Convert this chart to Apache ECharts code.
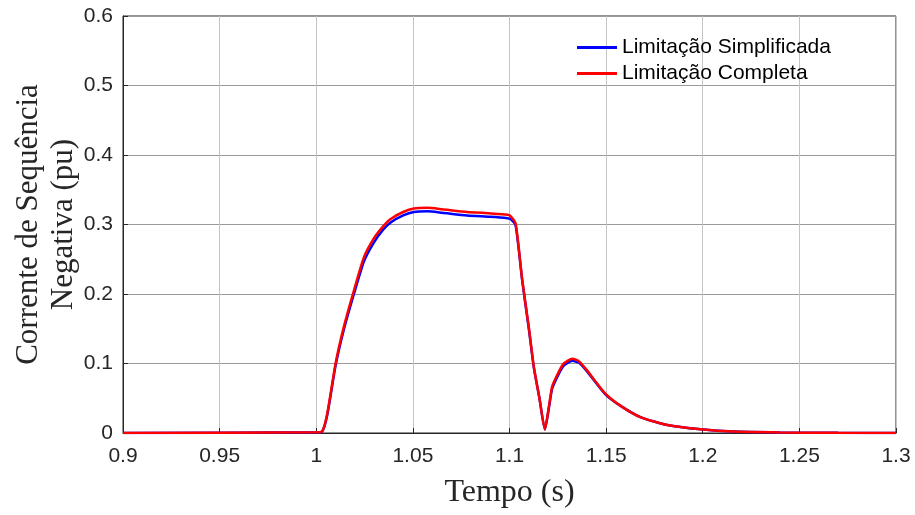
<!DOCTYPE html>
<html>
<head>
<meta charset="utf-8">
<script src="https://cdn.jsdelivr.net/npm/echarts@6/dist/echarts.min.js"></script>
<style>html,body{margin:0;padding:0;background:#fff}#c{width:915px;height:515px}</style>
</head>
<body>
<div id="c"></div>
<script>
const xTicks = [0.9, 0.95, 1, 1.05, 1.1, 1.15, 1.2, 1.25, 1.3];
const yTicks = [0, 0.1, 0.2, 0.3, 0.4, 0.5, 0.6];
const time = [0.9, 1.0, 1.003, 1.0057, 1.010, 1.0143, 1.0195, 1.0247, 1.0298, 1.0345, 1.0385, 1.045, 1.0505, 1.0575, 1.065, 1.078, 1.09, 1.0989, 1.1005, 1.1032, 1.1066, 1.110, 1.1126, 1.1155, 1.1183, 1.1205, 1.1221, 1.1255, 1.1281, 1.1325, 1.136, 1.140, 1.1495, 1.1575, 1.168, 1.1817, 1.199, 1.216, 1.24, 1.27, 1.3];
const limSimplificada = [0, 0.001, 0.002, 0.026, 0.097, 0.149, 0.200, 0.247, 0.274, 0.292, 0.303, 0.313, 0.318, 0.319, 0.317, 0.313, 0.311, 0.309, 0.308, 0.298, 0.219, 0.150, 0.094, 0.05, 0.005, 0.038, 0.064, 0.085, 0.097, 0.104, 0.101, 0.089, 0.056, 0.039, 0.0225, 0.0115, 0.0053, 0.002, 0.0008, 0.0002, 0];
const limCompleta = [0, 0.001, 0.002, 0.028, 0.100, 0.153, 0.205, 0.253, 0.280, 0.297, 0.308, 0.318, 0.323, 0.324, 0.322, 0.318, 0.316, 0.314, 0.312, 0.301, 0.220, 0.152, 0.095, 0.05, 0.005, 0.04, 0.067, 0.088, 0.100, 0.107, 0.103, 0.0905, 0.057, 0.039, 0.0225, 0.0115, 0.0053, 0.002, 0.0008, 0.0002, 0];
const seriesNames = ['Limitação Simplificada', 'Limitação Completa'];

const chart = echarts.init(document.getElementById('c'));
const tickFont = {fontFamily: 'Liberation Sans', fontSize: 21, color: '#262626'};
chart.setOption({
  animation: false,
  grid: {left: 123, right: 19, top: 16, bottom: 82, containLabel: false, outerBoundsMode: 'none', show: true, borderColor: '#262626', borderWidth: 1, backgroundColor: 'transparent'},
  legend: {
    orient: 'vertical', left: 572, top: 32, itemWidth: 40, itemHeight: 3, itemGap: 5,
    icon: 'rect',
    textStyle: {fontFamily: 'Liberation Sans', fontSize: 21, color: '#000'},
    data: seriesNames
  },
  xAxis: {
    type: 'value', min: xTicks[0], max: xTicks[xTicks.length - 1], interval: 0.05,
    axisLine: {show: true, lineStyle: {color: '#262626'}},
    axisTick: {inside: true, length: 5, lineStyle: {color: '#262626'}},
    axisLabel: Object.assign({margin: 13, formatter: v => String(parseFloat(v.toFixed(2)))}, tickFont),
    splitLine: {show: true, lineStyle: {color: '#c4c4c4', width: 1}},
    name: 'Tempo (s)', nameLocation: 'middle', nameGap: 44, nameMoveOverlap: false,
    nameTextStyle: {fontFamily: 'Liberation Serif', fontSize: 32, color: '#262626'}
  },
  yAxis: {
    type: 'value', min: yTicks[0], max: yTicks[yTicks.length - 1], interval: 0.1,
    axisLine: {show: true, lineStyle: {color: '#262626'}},
    axisTick: {show: true, inside: true, length: 5, lineStyle: {color: '#262626'}},
    axisLabel: Object.assign({margin: 10, formatter: v => String(parseFloat(v.toFixed(2)))}, tickFont),
    splitLine: {show: true, lineStyle: {color: '#9a9a9a', width: 1}},
    name: 'Corrente de Sequência\nNegativa (pu)', nameLocation: 'middle', nameGap: 42, nameRotate: 90, nameMoveOverlap: false,
    nameTextStyle: {fontFamily: 'Liberation Serif', fontSize: 31, color: '#262626', lineHeight: 35}
  },
  series: [
    {name: seriesNames[0], type: 'line', showSymbol: false, smooth: 0.2, color: '#0000ff',
     lineStyle: {width: 2.5, color: '#0000ff'}, data: time.map((t, i) => [t, limSimplificada[i]])},
    {name: seriesNames[1], type: 'line', showSymbol: false, smooth: 0.2, color: '#ff0000',
     lineStyle: {width: 2.5, color: '#ff0000'}, data: time.map((t, i) => [t, limCompleta[i]])}
  ]
});
</script>
</body>
</html>
